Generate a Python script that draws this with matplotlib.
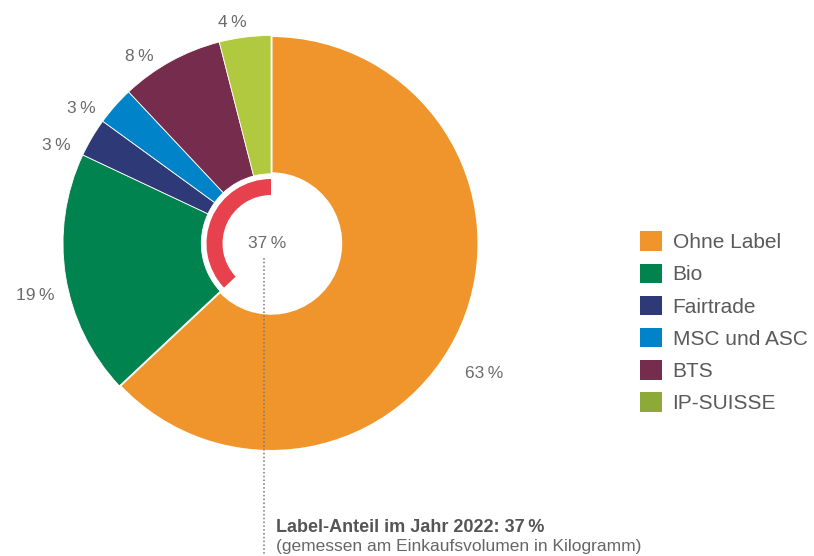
import numpy as np
import matplotlib.pyplot as plt
from matplotlib.patches import Patch

plt.rcParams['font.family'] = ['Liberation Sans', 'DejaVu Sans']

# data
categories = ["Ohne Label", "Bio", "Fairtrade", "MSC und ASC", "BTS", "IP-SUISSE"]
shares = [63, 19, 3, 3, 8, 4]
colors = ["#F0952C", "#00834F", "#2E3A78", "#0083C8", "#762C4C", "#B0C93E"]
legend_colors = ["#F0952C", "#00834F", "#2E3A78", "#0083C8", "#762C4C", "#8DAA38"]
label_share = 37
title_text = "Label-Anteil im Jahr 2022: 37\u2009%"
sub_text = "(gemessen am Einkaufsvolumen in Kilogramm)"

# label placement tweaks (angle nudge in degrees, distance in radii)
label_nudge = [-8, 3.5, 6, 6, 6.3, 2.6]
label_dist = [1.2, 1.16, 1.135, 1.12, 1.10, 1.08]

W, H = 814, 556
fig = plt.figure(figsize=(W / 100, H / 100), dpi=100)
cx, cy, R = 271, 243.5, 208
ax = fig.add_axes([(cx - R) / W, (H - cy - R) / H, 2 * R / W, 2 * R / H])

labels = [f"{v}\u2009%" for v in shares]
wedges, texts = ax.pie(shares, colors=colors, startangle=90, counterclock=False,
                       radius=1, labels=labels, labeldistance=1.14,
                       wedgeprops=dict(width=0.665, edgecolor="white", linewidth=0.6),
                       textprops=dict(fontsize=12.5, color="#6b6b6b"))
wedges[0].set_linewidth(2.2)
for w, t, nd, d in zip(wedges, texts, label_nudge, label_dist):
    ang = np.deg2rad((w.theta1 + w.theta2) / 2 + nd)
    t.set_position((d * np.cos(ang), d * np.sin(ang)))
    t.set_ha("center")
    t.set_va("center")

# inner red ring showing the label share
ax.pie([label_share, 100 - label_share], colors=["#E8414E", "none"], startangle=90,
       counterclock=True, radius=0.31, wedgeprops=dict(width=0.077, linewidth=0))

ax.set_xlim(-1, 1)
ax.set_ylim(-1, 1)
ax.set_aspect("equal")
ax.axis("off")

ax.text(-0.02, 0.0, f"{label_share}\u2009%", ha="center", va="center",
        fontsize=12.5, color="#6b6b6b")
ax.plot([-0.034, -0.034], [-0.07, -1.6], linestyle=(0, (1, 1.5)), color="#777777",
        linewidth=1.1, clip_on=False)

fig.text(276 / W, 1 - 527 / H, title_text, fontsize=13, fontweight="bold",
         color="#555555", ha="left", va="center")
fig.text(276 / W, 1 - 547 / H, sub_text, fontsize=12.5, color="#666666",
         ha="left", va="center")

handles = [Patch(facecolor=c, edgecolor="none") for c in legend_colors]
fig.legend(handles, categories, loc="upper left", bbox_to_anchor=(632 / W, 1 - 223 / H),
           frameon=False, fontsize=15, handlelength=1.05, handleheight=1.05,
           handletextpad=0.5, labelspacing=0.55, borderaxespad=0, labelcolor="#5a5a5a")

fig.savefig("out.png", dpi=100)
